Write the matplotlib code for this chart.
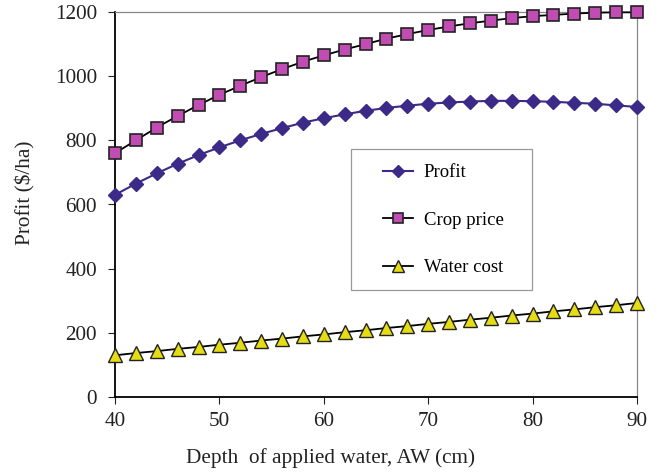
import matplotlib
matplotlib.use("Agg")
import matplotlib.pyplot as plt
from matplotlib.patches import Rectangle

depth = [40, 42, 44, 46, 48, 50, 52, 54, 56, 58, 60, 62, 64, 66, 68, 70,
         72, 74, 76, 78, 80, 82, 84, 86, 88, 90]
profit = [630, 665, 697, 727, 754, 778, 800, 820, 838, 855, 869, 881, 892,
          901, 908, 914, 918, 921, 923, 923, 922, 920, 917, 914, 909, 904]
crop_price = [760, 800, 840, 876, 910, 942, 970, 997, 1022, 1045, 1065, 1083,
              1100, 1117, 1131, 1144, 1155, 1165, 1173, 1181, 1187, 1191,
              1195, 1198, 1199, 1199]
water_cost = [130, 137, 143, 150, 156, 163, 169, 176, 182, 189, 195, 202, 208,
              215, 221, 228, 234, 241, 247, 254, 260, 267, 273, 280, 286, 293]
xticks = [40, 50, 60, 70, 80, 90]
yticks = [0, 200, 400, 600, 800, 1000, 1200]

plt.rcParams['font.family'] = ['Liberation Serif', 'DejaVu Serif']

W, H = 661, 473
fig = plt.figure(figsize=(W/100, H/100), dpi=100)
ax = fig.add_axes([115/W, 1-397/H, (637-115)/W, (397-12)/H])

ax.plot(depth, profit, color='#3B2A88', lw=1.5, marker='D', ms=7.5,
        mfc='#3B2A88', mec='#3B2A88', label='Profit', clip_on=False, zorder=3)
ax.plot(depth, crop_price, color='black', lw=1.3, marker='s', ms=9,
        mfc='#C04CB4', mec='#222222', mew=1.2, label='Crop price', clip_on=False, zorder=3)
ax.plot(depth, water_cost, color='black', lw=1.3, marker='^', ms=10,
        mfc='#E6DC14', mec='#222222', mew=1.0, label='Water cost', clip_on=False, zorder=3)

ax.set_xlim(40, 90)
ax.set_ylim(0, 1200)
ax.set_xticks(xticks)
ax.set_yticks(yticks)
ax.tick_params(direction='out', length=5, width=0.8, labelsize=15.2, colors='#222222')
ax.tick_params(axis='y', pad=8)
ax.tick_params(axis='x', pad=6)
for s in ['left', 'bottom']:
    ax.spines[s].set_color('black')
    ax.spines[s].set_linewidth(1.3)
for s in ['top', 'right']:
    ax.spines[s].set_color('#888888')
    ax.spines[s].set_linewidth(0.9)

fig.text(330/W, 1-458/H, 'Depth  of applied water, AW (cm)', fontsize=15.3,
         ha='center', va='center', color='#222222')
fig.text(25/W, 1-193/H, 'Profit ($/ha)', fontsize=15.3, rotation=90,
         ha='center', va='center', color='#222222')

fig.patches.append(Rectangle((351/W, 1-290/H), (532-351)/W, (290-149)/H,
                             transform=fig.transFigure, fill=True, facecolor='white',
                             edgecolor='#999999', lw=0.9, zorder=4))
leg = fig.legend(*ax.get_legend_handles_labels(), loc='upper left',
                 bbox_to_anchor=(383/W, 1-164/H), frameon=False, fontsize=13.5,
                 labelspacing=1.62, borderpad=0, handlelength=1.6,
                 handletextpad=0.56, borderaxespad=0, markerscale=0.8)
leg.set_zorder(5)

fig.savefig('out.png', dpi=100)
